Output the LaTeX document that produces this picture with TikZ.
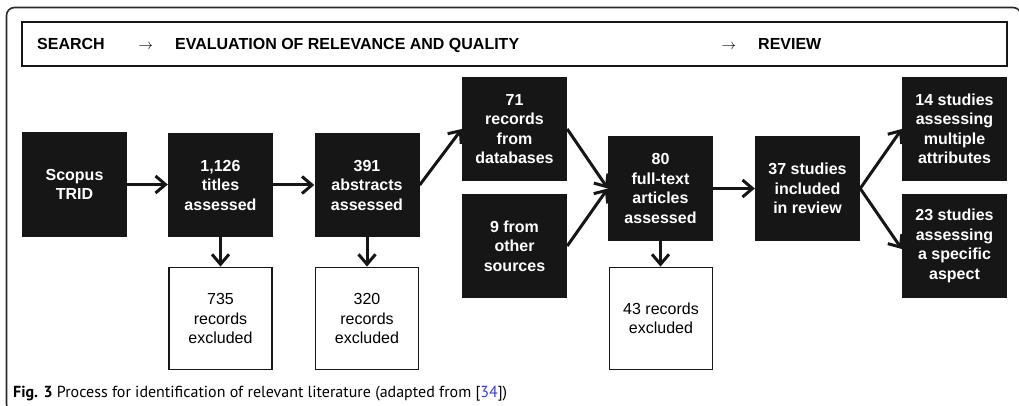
\documentclass[tikz,border=0pt]{standalone}
\usepackage{fontspec}
\setmainfont{Liberation Sans}
\newfontfamily\capfont{PT Sans}
\usetikzlibrary{arrows.meta}
\definecolor{boxfill}{HTML}{161616}
\definecolor{framegray}{HTML}{2A2A2A}
\definecolor{linkblue}{HTML}{3C3CD8}
\tikzset{
  blk/.style={fill=boxfill, text=white, align=center, inner sep=0pt,
    minimum width=105pt, minimum height=104pt,
    font=\fontsize{16}{19.5}\selectfont\bfseries},
  wht/.style={draw=boxfill, line width=1.8pt, fill=white, align=center, inner sep=0pt,
    minimum width=103pt, minimum height=102pt,
    font=\fontsize{16}{19.5}\selectfont},
  arr/.style={draw=boxfill, line width=3pt,
    -{Straight Barb[length=10pt,width=17pt,line width=3pt]}},
  hdr/.style={anchor=base west, inner sep=0pt, font=\fontsize{16}{19}\selectfont\bfseries},
  hdrarrow/.style={anchor=base west, inner sep=0pt, font=\fontsize{14.5}{17}\selectfont}
}
\begin{document}
\begin{tikzpicture}[x=1pt, y=-1pt]
\useasboundingbox (0,0) rectangle (1019,406);

% outer rounded frame, running off the page on the right and bottom
\begin{scope}
  \clip (0,0) rectangle (1019,406);
  \draw[framegray, line width=1.6pt, rounded corners=8pt] (6.5,7.5) rectangle (1021,412);
\end{scope}

% stage header
\draw[boxfill, line width=1.5pt] (22,22) rectangle (1007,66);
\node[hdr] (hsearch) at (37,50) {SEARCH};
\node[hdrarrow] (harrowa) at (138.5,50) {$\rightarrow$};
\node[hdr] (heval) at (175,50) {EVALUATION OF RELEVANCE AND QUALITY};
\node[hdrarrow] (harrowb) at (721.5,50) {$\rightarrow$};
\node[hdr] (hreview) at (758,50) {REVIEW};

% process boxes
\node[blk, minimum height=105pt] (scopus) at (74.5,184.5) {Scopus\\TRID};
\node[blk] (titles) at (220.5,185) {1,126\\titles\\assessed};
\node[blk] (abstracts) at (367,185) {391\\abstracts\\assessed};
\node[blk] (db) at (514.5,129) {71\\records\\from\\databases};
\node[blk] (other) at (514.5,246) {9 from\\other\\sources};
\node[blk] (full) at (660.5,188.5) {80\\full-text\\articles\\assessed};
\node[blk] (incl) at (807.5,188.5) {37 studies\\included\\in review};
\node[blk] (multi) at (954.5,129) {14 studies\\assessing\\multiple\\attributes};
\node[blk] (spec) at (954.5,246) {23 studies\\assessing\\a specific\\aspect};

% exclusion boxes
\node[wht] (exa) at (220.5,318.5) {735\\records\\excluded};
\node[wht] (exb) at (367,318.5) {320\\records\\excluded};
\node[wht] (exc) at (661,318.5) {43 records\\excluded};

% connectors
\draw[arr] (scopus.east) -- (scopus.east -| titles.west);
\draw[arr] (titles.east) -- (titles.east -| abstracts.west);
\draw[arr] (titles.south) -- (exa.north);
\draw[arr] (abstracts.south) -- (exb.north);
\draw[arr] (abstracts.east) -- (db.west);
\draw[arr] (db.east) -- (full.west);
\draw[arr] (other.east) -- (full.west);
\draw[arr] (full.south) -- (full.south |- exc.north);
\draw[arr] (full.east) -- (incl.west);
\draw[arr] (incl.east) -- (multi.west);
\draw[arr] (incl.east) -- ([yshift=-3pt]spec.west);

% caption
\node[anchor=base west, inner sep=0pt, font=\capfont\fontsize{16}{19}\selectfont] (caption) at (13,397)
  {\textbf{Fig. 3} Process for identification of relevant literature (adapted from [\textcolor{linkblue}{34}])};
\end{tikzpicture}
\end{document}
